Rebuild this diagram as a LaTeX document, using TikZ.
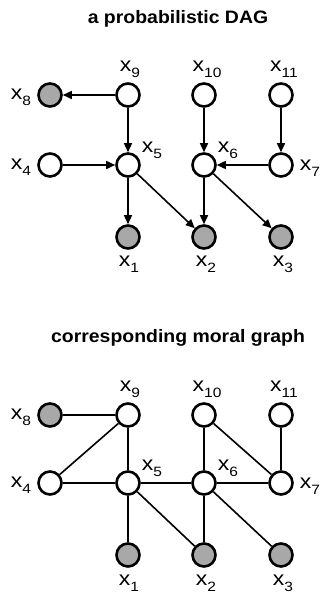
\documentclass[tikz,border=0pt]{standalone}
\usepackage{fontspec}
\setmainfont{Liberation Sans}
\usetikzlibrary{arrows.meta}
\newcommand{\xl}[1]{\scalebox{1.15}[1]{x\raisebox{-0.28em}{\fontsize{13.5}{13.5}\selectfont #1}}}
\newcommand{\ttltext}[1]{\scalebox{1.08}[1]{#1}}
\definecolor{nodegray}{RGB}{168,168,168}
\tikzset{
  vnode/.style={circle, draw=black, line width=2.6pt, fill=white, minimum size=23pt, inner sep=0pt},
  obsnode/.style={vnode, fill=nodegray},
  lab/.style={font=\fontsize{20}{22}\selectfont, inner sep=0pt},
  ttl/.style={font=\fontsize{18}{22}\selectfont\bfseries, inner sep=0pt},
  arr/.style={line width=1.6pt, -{Triangle[length=9pt,width=8pt]}},
  edg/.style={line width=1.6pt}
}
\begin{document}
\begin{tikzpicture}[x=1pt,y=-1pt]
\useasboundingbox (0,0) rectangle (320,592);
% ---------- DAG ----------
\node[ttl] (t1) at (178,19) {\ttltext{a probabilistic DAG}};
\node[obsnode] (a8) at (50,95) {};
\node[vnode] (a9) at (128,95) {};
\node[vnode] (a10) at (204,95) {};
\node[vnode] (a11) at (281,95) {};
\node[vnode] (a4) at (50,165) {};
\node[vnode] (a5) at (128,165) {};
\node[vnode] (a6) at (204,165) {};
\node[vnode] (a7) at (281,165) {};
\node[obsnode] (a1) at (128,237) {};
\node[obsnode] (a2) at (204,237) {};
\node[obsnode] (a3) at (281,237) {};
\node[lab] (la9) at (130,69) {\xl{9}};
\node[lab] (la10) at (207,69) {\xl{10}};
\node[lab] (la11) at (284,69) {\xl{11}};
\node[lab] (la8) at (21,97) {\xl{8}};
\node[lab] (la4) at (21,167) {\xl{4}};
\node[lab] (la5) at (152,150) {\xl{5}};
\node[lab] (la6) at (228,150) {\xl{6}};
\node[lab] (la7) at (310,168) {\xl{7}};
\node[lab] (la1) at (129,264) {\xl{1}};
\node[lab] (la2) at (206,264) {\xl{2}};
\node[lab] (la3) at (283,264) {\xl{3}};
\draw[arr] (a9) -- (a8);
\draw[arr] (a9) -- (a5);
\draw[arr] (a10) -- (a6);
\draw[arr] (a11) -- (a7);
\draw[arr] (a4) -- (a5);
\draw[arr] (a7) -- (a6);
\draw[arr] (a5) -- (a1);
\draw[arr] (a5) -- (a2);
\draw[arr] (a6) -- (a2);
\draw[arr] (a6) -- (a3);
% ---------- moral graph ----------
\begin{scope}[yshift=-320pt]
\node[ttl] (t2) at (178,18) {\ttltext{corresponding moral graph}};
\node[obsnode] (b8) at (50,95) {};
\node[vnode] (b9) at (128,95) {};
\node[vnode] (b10) at (204,95) {};
\node[vnode] (b11) at (281,95) {};
\node[vnode] (b4) at (50,163) {};
\node[vnode] (b5) at (128,163) {};
\node[vnode] (b6) at (204,163) {};
\node[vnode] (b7) at (281,163) {};
\node[obsnode] (b1) at (128,235) {};
\node[obsnode] (b2) at (204,235) {};
\node[obsnode] (b3) at (281,235) {};
\node[lab] (lb9) at (130,69) {\xl{9}};
\node[lab] (lb10) at (207,69) {\xl{10}};
\node[lab] (lb11) at (284,69) {\xl{11}};
\node[lab] (lb8) at (21,97) {\xl{8}};
\node[lab] (lb4) at (21,165) {\xl{4}};
\node[lab] (lb5) at (152,148) {\xl{5}};
\node[lab] (lb6) at (228,148) {\xl{6}};
\node[lab] (lb7) at (310,166) {\xl{7}};
\node[lab] (lb1) at (129,263) {\xl{1}};
\node[lab] (lb2) at (206,263) {\xl{2}};
\node[lab] (lb3) at (283,263) {\xl{3}};
\end{scope}
\draw[edg] (b8) -- (b9);
\draw[edg] (b9) -- (b4);
\draw[edg] (b9) -- (b5);
\draw[edg] (b4) -- (b5);
\draw[edg] (b5) -- (b6);
\draw[edg] (b6) -- (b7);
\draw[edg] (b10) -- (b6);
\draw[edg] (b10) -- (b7);
\draw[edg] (b11) -- (b7);
\draw[edg] (b5) -- (b1);
\draw[edg] (b5) -- (b2);
\draw[edg] (b6) -- (b2);
\draw[edg] (b6) -- (b3);
\end{tikzpicture}
\end{document}
